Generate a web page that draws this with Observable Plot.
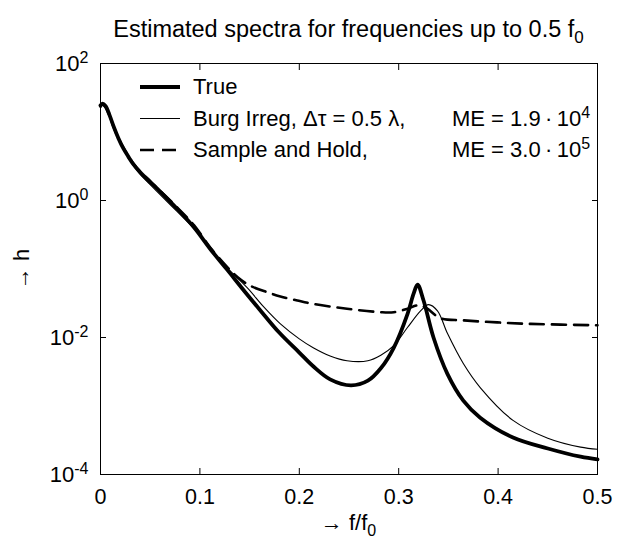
<!DOCTYPE html>
<html><head><meta charset="utf-8">
<script src="https://cdn.jsdelivr.net/npm/d3@7"></script>
<script src="https://cdn.jsdelivr.net/npm/@observablehq/plot@0.6"></script>
<style>html,body{margin:0;padding:0;background:#fff;}</style>
</head><body><div id="chart"></div>
<script>
// ---- data ----
const fTrue = [0, 0.002, 0.005, 0.009, 0.013, 0.018, 0.023, 0.028, 0.033, 0.04, 0.05, 0.06, 0.077, 0.094, 0.111, 0.128, 0.144, 0.16, 0.18, 0.2, 0.214, 0.231, 0.252, 0.269, 0.282, 0.295, 0.309, 0.315, 0.319, 0.325, 0.335, 0.349, 0.365, 0.382, 0.415, 0.45, 0.483, 0.5];
const hTrue = [24.5, 26.0, 24.0, 17.8, 12.3, 8.13, 5.75, 4.37, 3.39, 2.57, 1.86, 1.35, 0.759, 0.407, 0.191, 0.0955, 0.0490, 0.0257, 0.0117, 0.00603, 0.00380, 0.00245, 0.00200, 0.00234, 0.00355, 0.00708, 0.0224, 0.0437, 0.0589, 0.0347, 0.0100, 0.00295, 0.00120, 0.000676, 0.000347, 0.000240, 0.000182, 0.000166];

const fBurg = [0, 0.002, 0.005, 0.009, 0.013, 0.018, 0.023, 0.028, 0.033, 0.04, 0.05, 0.06, 0.077, 0.094, 0.111, 0.128, 0.148, 0.164, 0.181, 0.2, 0.214, 0.231, 0.248, 0.269, 0.282, 0.295, 0.309, 0.322, 0.33, 0.339, 0.349, 0.365, 0.382, 0.415, 0.45, 0.483, 0.5];
const hBurg = [24.5, 26.0, 24.0, 17.8, 12.3, 8.13, 5.75, 4.27, 3.24, 2.40, 1.70, 1.22, 0.692, 0.389, 0.191, 0.102, 0.0525, 0.0282, 0.0158, 0.00955, 0.00708, 0.00537, 0.00457, 0.00457, 0.00550, 0.00759, 0.0141, 0.0245, 0.0302, 0.0245, 0.0115, 0.00417, 0.00186, 0.000617, 0.000339, 0.000251, 0.000234];

const fSH = [0, 0.002, 0.005, 0.009, 0.013, 0.018, 0.023, 0.028, 0.033, 0.04, 0.05, 0.06, 0.077, 0.094, 0.111, 0.128, 0.138, 0.15, 0.168, 0.181, 0.198, 0.214, 0.248, 0.282, 0.295, 0.309, 0.319, 0.327, 0.342, 0.365, 0.399, 0.433, 0.5];
const hSH = [23.4, 25.1, 23.0, 17.4, 12.0, 8.13, 5.89, 4.47, 3.47, 2.63, 1.91, 1.38, 0.794, 0.437, 0.200, 0.105, 0.0759, 0.0575, 0.0457, 0.0398, 0.0347, 0.0309, 0.0263, 0.0234, 0.0234, 0.0263, 0.0295, 0.0275, 0.0191, 0.0178, 0.0166, 0.0158, 0.0151];

const xTicks = [0, 0.1, 0.2, 0.3, 0.4, 0.5];
const yTicks = [1e-4, 1e-2, 1e0, 1e2];
const yTickExponents = ["-4", "-2", "0", "2"];

const legendLabels = ["True", "Burg Irreg, \u0394\u03c4 = 0.5 \u03bb,", "Sample and Hold,"];
const legendME = [null, ["1.9", "4"], ["3.0", "5"]];
const titleMain = "Estimated spectra for frequencies up to 0.5 f";
const titleSub = "0";
const xLabelMain = "\u2192 f/f";
const xLabelSub = "0";
const yLabel = "\u2192 h";

// ---- styles ----
const FONT = "'Liberation Sans', Arial, Helvetica, sans-serif";
const seriesStyle = [
  {strokeWidth: 3.8, dash: null},
  {strokeWidth: 1.1, dash: null},
  {strokeWidth: 2.6, dash: "14,8"}
];

const rows = (fs, hs) => fs.map((f, i) => ({f, h: hs[i]}));
const dTrue = rows(fTrue, hTrue), dBurg = rows(fBurg, hBurg), dSH = rows(fSH, hSH);

const svg = Plot.plot({
  width: 618, height: 543,
  marginLeft: 100, marginRight: 21, marginTop: 63, marginBottom: 69,
  style: {fontFamily: FONT, fontSize: "21px", color: "black", background: "white"},
  x: {domain: [0, 0.5]},
  y: {type: "log", domain: [1e-4, 1e2]},
  marks: [
    Plot.line(dSH, {x: "f", y: "h", stroke: "black", strokeWidth: seriesStyle[2].strokeWidth, strokeDasharray: seriesStyle[2].dash, curve: "catmull-rom"}),
    Plot.line(dBurg, {x: "f", y: "h", stroke: "black", strokeWidth: seriesStyle[1].strokeWidth, curve: "catmull-rom"}),
    Plot.line(dTrue, {x: "f", y: "h", stroke: "black", strokeWidth: seriesStyle[0].strokeWidth, curve: "catmull-rom"}),
    Plot.axisX({anchor: "bottom", ticks: xTicks, tickSize: -6, tickPadding: 20, fontSize: 21.5, tickFormat: d => String(d), label: null}),
    Plot.axisX({anchor: "top", ticks: xTicks, tickSize: -6, tickFormat: () => "", label: null}),
    Plot.axisY({anchor: "left", ticks: yTicks, tickSize: -6, tickPadding: 18, fontSize: 22, tickFormat: d => yTickExponents[yTicks.indexOf(d)], label: null}),
    Plot.axisY({anchor: "right", ticks: yTicks, tickSize: -6, tickFormat: () => "", label: null}),
    Plot.frame({stroke: "black", strokeWidth: 1})
  ]
});
document.getElementById("chart").appendChild(svg);

const S = d3.select(svg);
// y tick labels as 10^n with superscripts
S.selectAll('g[aria-label="y-axis tick label"] text').each(function() {
  const t = d3.select(this);
  const exp = t.text();
  if (!exp) return;
  t.text("10");
  t.append("tspan").attr("dy", "-0.5em").attr("font-size", "16px").text(exp);
});

const plotLeft = 100, plotRight = 597;
const cx = (plotLeft + plotRight) / 2;

// title
const title = S.append("text").attr("x", cx).attr("y", 37).attr("text-anchor", "middle")
  .attr("font-family", FONT).attr("font-size", "23.5px").attr("fill", "black");
title.append("tspan").text(titleMain);
title.append("tspan").attr("dy", "0.35em").attr("font-size", "17px").text(titleSub);

// x label
const xl = S.append("text").attr("x", cx).attr("y", 530).attr("text-anchor", "middle")
  .attr("font-family", FONT).attr("font-size", "22px").attr("fill", "black");
xl.append("tspan").text(xLabelMain);
xl.append("tspan").attr("dy", "0.4em").attr("font-size", "16px").text(xLabelSub);

// y label
S.append("text").attr("transform", "translate(29,269) rotate(-90)").attr("text-anchor", "middle")
  .attr("font-family", FONT).attr("font-size", "22px").attr("fill", "black").text(yLabel);

// legend
const lg = S.append("g").attr("font-family", FONT).attr("font-size", "22px")
  .attr("fill", "black").attr("text-anchor", "start");
const rowGap = 31.5, firstRowY = 87;
legendLabels.forEach((lab, i) => {
  const y = firstRowY + i * rowGap;
  const st = seriesStyle[i];
  lg.append("line").attr("x1", 140).attr("x2", 180).attr("y1", y).attr("y2", y)
    .attr("stroke", "black").attr("stroke-width", st.strokeWidth)
    .attr("stroke-dasharray", st.dash);
  lg.append("text").attr("x", 193).attr("y", y + 7).attr("text-anchor", "start").text(lab);
  if (legendME[i]) {
    const t = lg.append("text").attr("x", 452).attr("y", y + 7).attr("text-anchor", "start");
    t.append("tspan").text("ME = " + legendME[i][0] + "\u2009\u00b7\u200910");
    t.append("tspan").attr("dy", "-0.5em").attr("font-size", "16px").text(legendME[i][1]);
  }
});
</script>
</body></html>
